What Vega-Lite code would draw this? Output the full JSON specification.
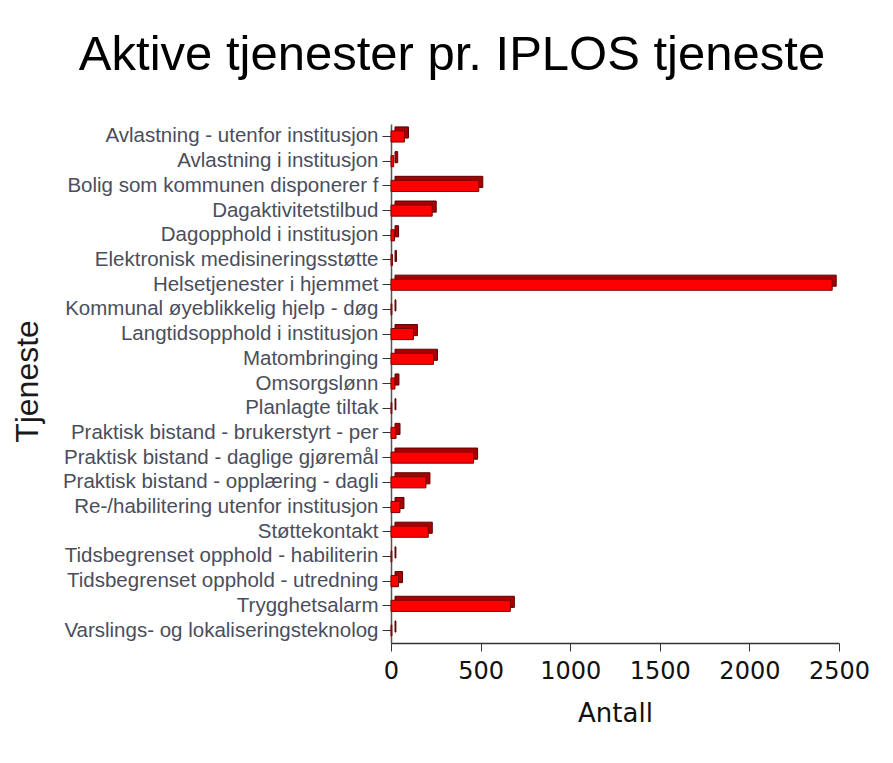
{
  "$schema": "https://vega.github.io/schema/vega-lite/v6.json",
  "autosize": {"type": "none"},
  "padding": {"left": 391, "top": 124, "right": 54, "bottom": 122},
  "width": 448,
  "height": 519,
  "background": "white",
  "title": {
    "text": "Aktive tjenester pr. IPLOS tjeneste",
    "font": "Liberation Sans",
    "fontSize": 49,
    "fontWeight": "normal",
    "color": "#000000",
    "anchor": "middle",
    "dx": -163,
    "offset": 44
  },
  "data": {
    "values": [
      {"Tjeneste": "Avlastning - utenfor institusjon", "Antall": 75},
      {"Tjeneste": "Avlastning i institusjon", "Antall": 15},
      {"Tjeneste": "Bolig som kommunen disponerer f", "Antall": 490},
      {"Tjeneste": "Dagaktivitetstilbud", "Antall": 230},
      {"Tjeneste": "Dagopphold i institusjon", "Antall": 20},
      {"Tjeneste": "Elektronisk medisineringsstøtte", "Antall": 8},
      {"Tjeneste": "Helsetjenester i hjemmet", "Antall": 2462},
      {"Tjeneste": "Kommunal øyeblikkelig hjelp - døg", "Antall": 5},
      {"Tjeneste": "Langtidsopphold i institusjon", "Antall": 125},
      {"Tjeneste": "Matombringing", "Antall": 237},
      {"Tjeneste": "Omsorgslønn", "Antall": 22},
      {"Tjeneste": "Planlagte tiltak", "Antall": 5},
      {"Tjeneste": "Praktisk bistand - brukerstyrt - per", "Antall": 28},
      {"Tjeneste": "Praktisk bistand - daglige gjøremål", "Antall": 461},
      {"Tjeneste": "Praktisk bistand - opplæring - dagli", "Antall": 195},
      {"Tjeneste": "Re-/habilitering utenfor institusjon", "Antall": 50},
      {"Tjeneste": "Støttekontakt", "Antall": 208},
      {"Tjeneste": "Tidsbegrenset opphold - habiliterin", "Antall": 5},
      {"Tjeneste": "Tidsbegrenset opphold - utredning", "Antall": 42},
      {"Tjeneste": "Trygghetsalarm", "Antall": 666},
      {"Tjeneste": "Varslings- og lokaliseringsteknolog", "Antall": 5}
    ]
  },
  "encoding": {
    "y": {
      "field": "Tjeneste",
      "type": "nominal",
      "sort": null,
      "scale": {"paddingInner": 0.55, "paddingOuter": 0.28},
      "axis": {
        "title": "Tjeneste",
        "titleFont": "Liberation Sans",
        "titleFontSize": 32,
        "titleFontWeight": "normal",
        "titleColor": "#1a1a1a",
        "titleAngle": -90,
        "titleAlign": "center",
        "titleBaseline": "middle",
        "titleX": -364,
        "titleY": 257,
        "labelFont": "Liberation Sans",
        "labelFontSize": 20.5,
        "labelColor": "#4a4e5c",
        "labelPadding": 4,
        "labelLimit": 400,
        "tickSize": 9,
        "tickColor": "#333333",
        "domainColor": "#555555",
        "domainWidth": 1.5
      }
    },
    "x": {
      "field": "Antall",
      "type": "quantitative",
      "scale": {"domain": [0, 2500], "nice": false},
      "axis": {
        "title": "Antall",
        "titleFont": "DejaVu Sans",
        "titleFontSize": 26,
        "titleFontWeight": "normal",
        "titleColor": "#111111",
        "titlePadding": 17,
        "values": [0, 500, 1000, 1500, 2000, 2500],
        "format": "d",
        "labelOverlap": false,
        "labelFlush": false,
        "labelFont": "DejaVu Sans",
        "labelFontSize": 24,
        "labelColor": "#111111",
        "labelPadding": 8,
        "tickSize": 8,
        "tickColor": "#333333",
        "domainColor": "#333333",
        "domainWidth": 1.5,
        "grid": false
      }
    }
  },
  "layer": [
    {
      "mark": {"type": "bar", "color": "#a80000", "stroke": "#5a0000", "strokeWidth": 1, "xOffset": 4, "yOffset": -4}
    },
    {
      "mark": {"type": "bar", "color": "#ff0000", "stroke": "#7a0000", "strokeWidth": 1}
    }
  ],
  "config": {
    "view": {"stroke": null}
  }
}
